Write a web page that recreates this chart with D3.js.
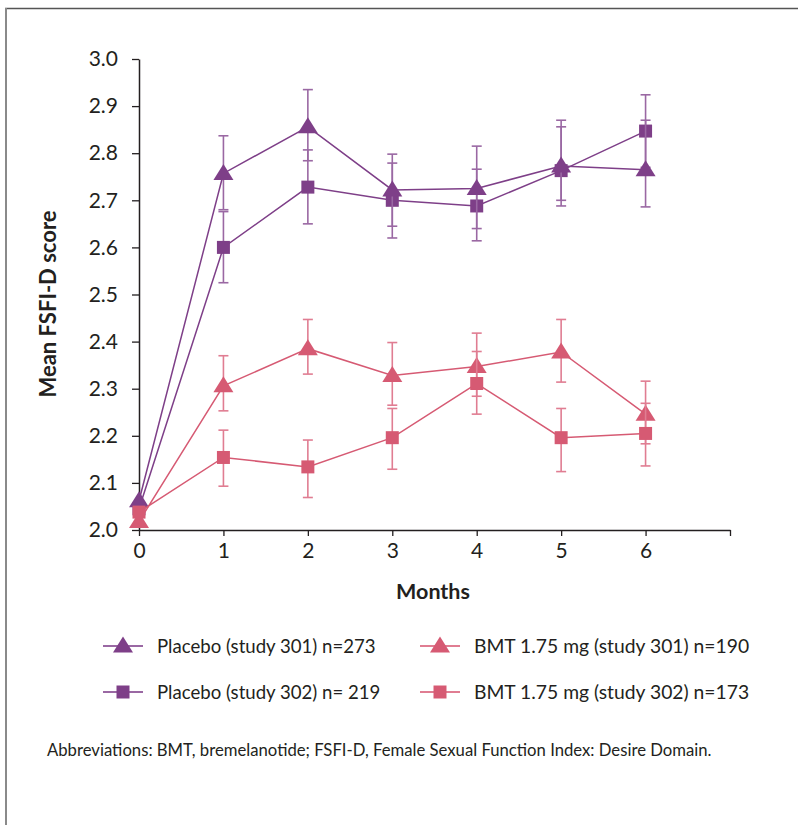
<!DOCTYPE html>
<html>
<head>
<meta charset="utf-8">
<script src="https://cdn.jsdelivr.net/npm/d3@7"></script>
<style>
  html, body { margin: 0; padding: 0; background: #fff; }
  svg { display: block; }
  text { font-family: Lato, "Noto Sans", sans-serif; fill: #231f20; }
</style>
</head>
<body>
<svg id="chart" width="798" height="825"></svg>
<script>
// ---- data ----
const months = [0, 1, 2, 3, 4, 5, 6];
const xTickLabels = ["0", "1", "2", "3", "4", "5", "6", ""];
const yTicks = [2.0, 2.1, 2.2, 2.3, 2.4, 2.5, 2.6, 2.7, 2.8, 2.9, 3.0];

const seriesNames = [
  "Placebo (study 301) n=273",
  "BMT 1.75 mg (study 301) n=190",
  "Placebo (study 302) n= 219",
  "BMT 1.75 mg (study 302) n=173"
];
const seriesShapes = ["triangle", "triangle", "square", "square"];
const seriesColors = ["#7e3f88", "#d65a73", "#7e3f88", "#d65a73"];
const errColors = ["#9a68a3", "#e07d92", "#9a68a3", "#e07d92"];

const placebo301 = [2.062, 2.757, 2.856, 2.722, 2.725, 2.773, 2.765];
const placebo301Lo = [null, 2.680, 2.784, 2.645, 2.640, 2.688, 2.686];
const placebo301Hi = [null, 2.837, 2.935, 2.798, 2.815, 2.870, 2.870];

const bmt301 = [2.018, 2.306, 2.385, 2.328, 2.347, 2.378, 2.246];
const bmt301Lo = [null, 2.253, 2.331, 2.265, 2.284, 2.314, 2.183];
const bmt301Hi = [null, 2.370, 2.447, 2.398, 2.418, 2.447, 2.316];

const placebo302 = [2.045, 2.600, 2.728, 2.700, 2.688, 2.763, 2.847];
const placebo302Lo = [null, 2.525, 2.650, 2.620, 2.614, 2.700, 2.770];
const placebo302Hi = [null, 2.676, 2.807, 2.779, 2.766, 2.856, 2.924];

const bmt302 = [2.038, 2.154, 2.134, 2.196, 2.311, 2.196, 2.205];
const bmt302Lo = [null, 2.093, 2.069, 2.129, 2.246, 2.124, 2.136];
const bmt302Hi = [null, 2.212, 2.191, 2.258, 2.379, 2.258, 2.269];

const footnote = "Abbreviations: BMT, bremelanotide; FSFI-D, Female Sexual Function Index: Desire Domain.";

const seriesValues = [placebo301, bmt301, placebo302, bmt302];
const seriesLo = [placebo301Lo, bmt301Lo, placebo302Lo, bmt302Lo];
const seriesHi = [placebo301Hi, bmt301Hi, placebo302Hi, bmt302Hi];
const drawOrder = [2, 0, 1, 3];

// ---- chart ----
const svg = d3.select("#chart");

// frame
svg.append("line").attr("x1", 5).attr("x2", 798).attr("y1", 8.5).attr("y2", 8.5)
  .attr("stroke", "#555").attr("stroke-width", 1.5);
svg.append("line").attr("x1", 6).attr("x2", 6).attr("y1", 8).attr("y2", 825)
  .attr("stroke", "#8a8a8a").attr("stroke-width", 2);

const x = d3.scaleLinear().domain([0, 7]).range([139, 730]);
const y = d3.scaleLinear().domain([2.0, 3.0]).range([530, 59]);

const yAxis = svg.append("g").attr("transform", "translate(139,0)")
  .call(d3.axisLeft(y).tickValues(yTicks).tickFormat(d3.format(".1f"))
    .tickSize(7).tickSizeOuter(0).tickPadding(14));
const xAxis = svg.append("g").attr("transform", "translate(0,530)")
  .call(d3.axisBottom(x).tickValues(d3.range(0, 8)).tickFormat((d, i) => xTickLabels[i])
    .tickSize(6).tickSizeOuter(0).tickPadding(7));
[yAxis, xAxis].forEach(g => {
  g.select(".domain").attr("stroke", "#231f20").attr("stroke-width", 1.5);
  g.selectAll(".tick line").attr("stroke", "#231f20").attr("stroke-width", 1.3);
  g.selectAll(".tick text").style("font-family", "Lato, sans-serif").style("font-size", "21px").attr("fill", "#231f20");
});

// axis titles
svg.append("text").attr("transform", "translate(56,304) rotate(-90)")
  .attr("text-anchor", "middle").style("font-size", "22px").style("font-weight", "bold")
  .text("Mean FSFI-D score");
svg.append("text").attr("x", 433).attr("y", 599).attr("text-anchor", "middle")
  .style("font-size", "21.5px").style("font-weight", "bold").text("Months");

function markerPath(shape) {
  if (shape === "triangle") return "M0,-9.5L10,6.5L-10,6.5Z";
  return "M-6.5,-6.5H6.5V6.5H-6.5Z";
}

const line = d3.line().x(d => x(d.m)).y(d => y(d.v));

drawOrder.forEach(si => {
  const vals = seriesValues[si];
  const pts = months.map((m, i) => ({ m, v: vals[i], lo: seriesLo[si][i], hi: seriesHi[si][i] }));
  const g = svg.append("g");
  // error bars
  const eb = g.selectAll(".eb").data(pts.filter(p => p.lo !== null)).join("g");
  eb.append("line").attr("x1", d => x(d.m)).attr("x2", d => x(d.m))
    .attr("y1", d => y(d.lo)).attr("y2", d => y(d.hi))
    .attr("stroke", errColors[si]).attr("stroke-width", 1.6);
  ["lo", "hi"].forEach(k => {
    eb.append("line").attr("x1", d => x(d.m) - 5).attr("x2", d => x(d.m) + 5)
      .attr("y1", d => y(d[k])).attr("y2", d => y(d[k]))
      .attr("stroke", errColors[si]).attr("stroke-width", 1.6);
  });
  // line
  g.append("path").datum(pts).attr("d", line).attr("fill", "none")
    .attr("stroke", seriesColors[si]).attr("stroke-width", 1.5);
  // markers
  g.selectAll(".mk").data(pts).join("path")
    .attr("transform", d => `translate(${x(d.m)},${y(d.v)})`)
    .attr("d", markerPath(seriesShapes[si]))
    .attr("fill", seriesColors[si]);
});

// legend
const legendPos = [
  { lx: 103, ly: 646 }, { lx: 420, ly: 646 },
  { lx: 103, ly: 692 }, { lx: 420, ly: 692 }
];
seriesNames.forEach((name, si) => {
  const p = legendPos[si];
  const g = svg.append("g").attr("transform", `translate(${p.lx},${p.ly})`);
  g.append("line").attr("x1", 0).attr("x2", 40).attr("y1", 0).attr("y2", 0)
    .attr("stroke", errColors[si]).attr("stroke-width", 2);
  g.append("path").attr("transform", "translate(20,0)")
    .attr("d", markerPath(seriesShapes[si])).attr("fill", seriesColors[si]);
  g.append("text").attr("x", 54).attr("y", 7).style("font-size", si % 2 ? "19.3px" : "18.6px").text(name);
});

svg.append("text").attr("x", 47).attr("y", 756).style("font-size", "16.7px").text(footnote);
</script>
</body>
</html>
